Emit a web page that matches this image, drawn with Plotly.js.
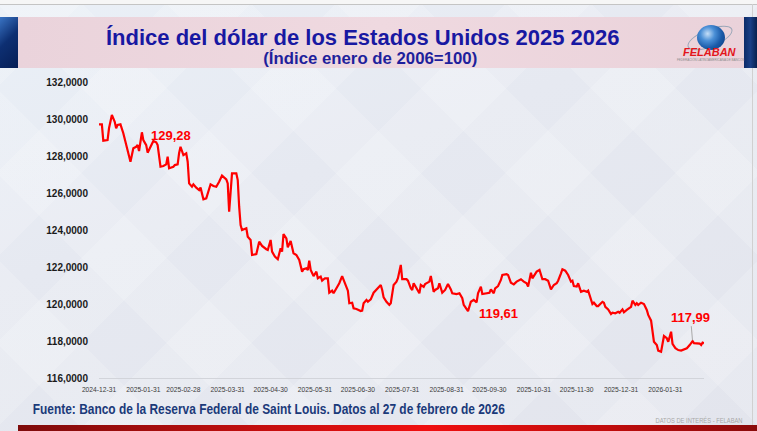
<!DOCTYPE html>
<html>
<head>
<meta charset="utf-8">
<script src="https://cdn.plot.ly/plotly-3.0.1.min.js"></script>
<style>
  html, body { margin:0; padding:0; width:757px; height:431px; overflow:hidden; }
  body { position:relative; background:#e5e8f0; }
  #bg { position:absolute; left:0; top:0; width:757px; height:431px;
    background:
      repeating-linear-gradient(45deg, rgba(255,255,255,0) 0px, rgba(255,255,255,0) 60px, rgba(255,255,255,0.16) 60px, rgba(255,255,255,0.16) 120px),
      repeating-linear-gradient(-45deg, rgba(255,255,255,0) 0px, rgba(255,255,255,0) 60px, rgba(255,255,255,0.16) 60px, rgba(255,255,255,0.16) 120px),
      linear-gradient(160deg, #eaf0f7 0%, #e6e9f1 40%, #e3e5ed 100%);
  }
  .deco { position:absolute; }
  #topwhite { left:0; top:0; width:757px; height:4px; background:#f6f6f6; }
  #topline { left:0; top:4px; width:757px; height:1px; background:#c4c4c4; }
  #rightline { left:752px; top:4px; width:1px; height:421px; background:#d0d0d0; }
  #banner { left:18px; top:17px; width:726px; height:51px;
    background: linear-gradient(90deg, #ead3db 0%, #efd9e0 50%, #ead2da 100%); }
  #lstripe { left:0; top:17px; width:18px; height:51px;
    background: linear-gradient(135deg, #3a74c4 0%, #0d2f72 45%, #061e55 100%); }
  #rstripe { left:744px; top:17px; width:13px; height:51px;
    background: linear-gradient(90deg, #0b2a68 0%, #1a3f86 50%, #08214f 100%); }
  #redbar { left:18px; top:425px; width:739px; height:6px;
    background: linear-gradient(90deg, #7e0b0b 0%, #c80f0f 35%, #f01010 55%, #c00c0c 80%, #8a0a0a 100%); }
  #globe { left:697px; top:25px; width:28px; height:25px; border-radius:50%;
    background: radial-gradient(circle at 38% 35%, #c4def7 0%, #4a8fd6 30%, #1a5aa8 60%, #0c3577 100%); }
  #ring { left:686px; top:29px; width:46px; height:16px; border-radius:50%;
    border:1.3px solid #9aa6b8; transform: rotate(-22deg); }
  #plot { position:absolute; left:0; top:0; width:757px; height:431px; }
</style>
</head>
<body>
<div id="bg"></div>
<div class="deco" id="topwhite"></div>
<div class="deco" id="topline"></div>
<div class="deco" id="rightline"></div>
<div class="deco" id="banner"></div>
<div class="deco" id="lstripe"></div>
<div class="deco" id="rstripe"></div>
<div class="deco" id="redbar"></div>
<div class="deco" id="ring"></div>
<div class="deco" id="globe"></div>
<div id="plot"></div>
<script>
// ---- Data ----
const dates = [
'2024-12-31','2025-01-02','2025-01-03','2025-01-06','2025-01-07','2025-01-09','2025-01-11','2025-01-12','2025-01-13','2025-01-15',
'2025-01-17','2025-01-19','2025-01-20','2025-01-22','2025-01-23','2025-01-24','2025-01-26','2025-01-27','2025-01-28','2025-01-30',
'2025-01-31','2025-02-02','2025-02-03','2025-02-05','2025-02-07','2025-02-09','2025-02-10','2025-02-12','2025-02-14','2025-02-16',
'2025-02-17','2025-02-18','2025-02-21','2025-02-22','2025-02-24','2025-02-25','2025-02-26','2025-02-28','2025-03-02','2025-03-03',
'2025-03-04','2025-03-06','2025-03-07','2025-03-09','2025-03-11','2025-03-12','2025-03-14','2025-03-16','2025-03-17','2025-03-19',
'2025-03-21','2025-03-23','2025-03-25','2025-03-27','2025-03-30','2025-03-31','2025-04-01','2025-04-03','2025-04-06','2025-04-07',
'2025-04-08','2025-04-09','2025-04-10','2025-04-12','2025-04-13','2025-04-14','2025-04-16','2025-04-17','2025-04-20','2025-04-22',
'2025-04-24','2025-04-27','2025-04-28','2025-04-30','2025-05-01','2025-05-03','2025-05-05','2025-05-07','2025-05-08','2025-05-09',
'2025-05-11','2025-05-12','2025-05-14','2025-05-16','2025-05-18','2025-05-20','2025-05-21','2025-05-22','2025-05-23','2025-05-25',
'2025-05-26','2025-05-27','2025-05-28','2025-05-30','2025-06-01','2025-06-02','2025-06-04','2025-06-05','2025-06-07','2025-06-09',
'2025-06-10','2025-06-12','2025-06-13','2025-06-15','2025-06-17','2025-06-19','2025-06-21','2025-06-23','2025-06-24','2025-06-26',
'2025-06-27','2025-06-29','2025-07-02','2025-07-03','2025-07-04','2025-07-06','2025-07-07','2025-07-09','2025-07-11','2025-07-13',
'2025-07-14','2025-07-16','2025-07-17','2025-07-18','2025-07-20','2025-07-22','2025-07-23','2025-07-25','2025-07-27','2025-07-28',
'2025-07-30','2025-07-31','2025-08-03','2025-08-04','2025-08-06','2025-08-07','2025-08-08','2025-08-10','2025-08-12','2025-08-13',
'2025-08-15','2025-08-16','2025-08-19','2025-08-20','2025-08-22','2025-08-23','2025-08-25','2025-08-26','2025-08-28','2025-08-30',
'2025-09-01','2025-09-03','2025-09-04','2025-09-07','2025-09-09','2025-09-11','2025-09-12','2025-09-15','2025-09-17','2025-09-19',
'2025-09-21','2025-09-22','2025-09-24','2025-09-25','2025-09-28','2025-09-30','2025-10-01','2025-10-03','2025-10-04','2025-10-06',
'2025-10-08','2025-10-09','2025-10-12','2025-10-13','2025-10-15','2025-10-17','2025-10-19','2025-10-22','2025-10-24','2025-10-26',
'2025-10-27','2025-10-29','2025-10-30','2025-10-31','2025-11-02','2025-11-04','2025-11-06','2025-11-08','2025-11-10','2025-11-12',
'2025-11-14','2025-11-16','2025-11-17','2025-11-19','2025-11-20','2025-11-22','2025-11-24','2025-11-26','2025-11-27','2025-11-28',
'2025-11-30','2025-12-01','2025-12-03','2025-12-05','2025-12-07','2025-12-08','2025-12-10','2025-12-11','2025-12-12','2025-12-14',
'2025-12-15','2025-12-17','2025-12-18','2025-12-19','2025-12-20','2025-12-22','2025-12-24','2025-12-25','2025-12-27','2025-12-29',
'2025-12-30','2026-01-01','2026-01-02','2026-01-04','2026-01-07','2026-01-08','2026-01-10','2026-01-11','2026-01-12','2026-01-14',
'2026-01-16','2026-01-18','2026-01-19','2026-01-21','2026-01-22','2026-01-23','2026-01-25','2026-01-26','2026-01-28','2026-01-29',
'2026-01-30','2026-02-01','2026-02-02','2026-02-04','2026-02-05','2026-02-07','2026-02-09','2026-02-11','2026-02-13','2026-02-15',
'2026-02-17','2026-02-19','2026-02-20','2026-02-22','2026-02-24','2026-02-25','2026-02-26','2026-02-27'
];
const indexValues = [
129.71,129.71,128.83,128.86,129.50,130.22,129.85,129.50,129.68,129.71,
129.23,128.59,128.42,127.69,128.05,128.42,128.50,128.59,128.27,129.28,
128.86,128.59,128.18,128.50,128.81,128.74,128.59,127.42,127.46,127.55,
127.96,127.34,127.42,127.51,127.55,128.15,128.50,128.05,128.15,127.69,
126.52,126.34,126.47,126.29,126.16,126.29,125.66,125.71,125.98,126.47,
126.38,126.34,126.61,126.94,126.74,126.52,124.99,127.06,127.06,126.70,
125.26,124.27,124.00,124.09,124.09,123.64,123.46,122.65,122.70,123.37,
123.14,122.96,122.92,123.46,122.83,122.56,122.42,123.01,122.83,123.78,
123.55,123.06,123.41,122.74,122.65,122.38,122.11,121.75,121.88,121.93,
121.84,122.34,121.84,121.51,121.75,121.39,121.48,121.26,121.39,121.39,
120.61,120.72,120.58,120.85,121.12,121.51,121.12,120.72,120.04,120.07,
119.77,119.73,119.62,119.64,120.04,120.22,120.12,120.25,120.61,120.76,
120.85,121.03,120.76,120.36,120.12,119.95,120.04,121.03,121.21,121.39,
122.11,121.34,121.34,121.26,120.85,120.76,121.12,120.85,120.58,121.03,
120.93,121.08,121.21,121.51,120.66,120.76,120.85,121.12,120.61,120.76,
121.08,120.79,120.58,120.54,120.58,120.31,119.95,119.61,120.12,120.22,
120.09,120.58,120.94,120.54,120.58,120.61,120.79,120.58,120.85,120.97,
121.30,121.57,121.61,121.57,121.15,121.06,121.21,121.34,121.21,121.12,
120.94,121.69,121.39,121.51,121.75,121.84,121.34,121.34,121.26,120.79,
121.03,121.12,121.26,121.66,121.88,121.80,121.57,121.21,121.26,120.97,
120.94,121.12,120.66,120.72,120.66,120.72,120.22,120.00,120.07,119.89,
119.89,120.04,120.12,120.07,119.85,119.71,119.46,119.53,119.50,119.58,
119.53,119.71,119.55,119.68,119.85,120.18,119.95,120.04,119.95,120.07,
120.00,119.68,119.41,119.10,118.63,117.96,117.78,117.48,117.42,117.96,
118.27,118.15,117.96,118.50,117.84,117.61,117.51,117.48,117.55,117.61,
117.78,117.99,117.88,117.87,117.86,117.78,117.91,117.88
];
const xTickDates = ['2024-12-31','2025-01-31','2025-02-28','2025-03-31','2025-04-30','2025-05-31','2025-06-30',
  '2025-07-31','2025-08-31','2025-09-30','2025-10-31','2025-11-30','2025-12-31','2026-01-31'];
const yTickValues = [116,118,120,122,124,126,128,130,132];
const labelledValues = [129.28, 119.61, 117.99];

// ---- Texts ----
const titleText = 'Índice del dólar de los Estados Unidos 2025 2026';
const subtitleText = '(Índice enero de 2006=100)';
const sourceText = 'Fuente: Banco de la Reserva Federal de Saint Louis. Datos al 27 de febrero de 2026';
const footerText = 'DATOS DE INTERÉS - FELABAN';

const fmt = (v, d) => v.toFixed(d).replace('.', ',');
const yTickText = yTickValues.map(v => fmt(v, 4));

// layout geometry
const W = 757, H = 431, ML = 99, MR = 53, MT = 82, MB = 53;
const PW = W - ML - MR, PH = H - MT - MB;
const px = x => (x - ML) / PW;
const py = y => (H - MB - y) / PH;

const SANS = 'Liberation Sans, Arial, sans-serif';

const trace = {
  type: 'scatter', mode: 'lines', x: dates, y: indexValues,
  line: { color: '#ff0000', width: 2.2, shape: 'linear' },
  hoverinfo: 'skip', showlegend: false
};

// condensed texts: [text, target width in px]
const condensed = [[sourceText, 472], [subtitleText, 214], [footerText, 87]];

const annotations = [
  { xref:'paper', yref:'paper', x: px(363), y: py(37), xanchor:'center', yanchor:'middle',
    text: titleText, showarrow:false, font:{ family:SANS, size:22, color:'#1818a2', weight:'bold' } },
  { xref:'paper', yref:'paper', x: px(370), y: py(58), xanchor:'center', yanchor:'middle',
    text: subtitleText, showarrow:false, font:{ family:SANS, size:16.5, color:'#1f1f9c', weight:'bold' } },
  { xref:'paper', yref:'paper', x: px(269), y: py(408), xanchor:'center', yanchor:'middle',
    text: sourceText, showarrow:false, font:{ family:SANS, size:15, color:'#1b3a7a', weight:'bold' } },
  { xref:'paper', yref:'paper', x: px(698.5), y: py(420), xanchor:'center', yanchor:'middle',
    text: footerText, showarrow:false, font:{ family:SANS, size:6.5, color:'#a8a8a8' } },
  { xref:'paper', yref:'paper', x: px(710), y: py(52), xanchor:'center', yanchor:'middle',
    text: 'FELABAN', showarrow:false, font:{ family:SANS, size:11, color:'#e3161b', weight:'bold', style:'italic' } },
  { xref:'paper', yref:'paper', x: px(710), y: py(59), xanchor:'center', yanchor:'middle',
    text: 'FEDERACIÓN LATINOAMERICANA DE BANCOS', showarrow:false, font:{ family:SANS, size:3, color:'#8a8a8a' } }
];

// value labels attached to the data points
const labelStyle = { family: SANS, size: 13, color: '#ff0000', weight: 'bold' };
const i1 = indexValues.indexOf(labelledValues[0]);
annotations.push({ x: dates[i1], y: indexValues[i1], xref:'x', yref:'y', text: fmt(indexValues[i1], 2),
  showarrow:false, xanchor:'left', yanchor:'middle', xshift:7, yshift:-3, font: labelStyle });
const i2 = indexValues.indexOf(labelledValues[1]);
annotations.push({ x: dates[i2], y: indexValues[i2], xref:'x', yref:'y', text: fmt(indexValues[i2], 2),
  showarrow:false, xanchor:'left', yanchor:'middle', xshift:9, yshift:-2, font: labelStyle });
const i3 = indexValues.indexOf(labelledValues[2]);
annotations.push({ x: dates[i3], y: indexValues[i3], xref:'x', yref:'y', text: fmt(indexValues[i3], 2),
  showarrow:true, arrowhead:0, arrowwidth:1, arrowcolor:'#a9a9a9', ax:-2, ay:-24, standoff:1,
  font: labelStyle });

const layout = {
  width: W, height: H,
  margin: { l: ML, r: MR, t: MT, b: MB, pad: 0 },
  paper_bgcolor: 'rgba(0,0,0,0)', plot_bgcolor: 'rgba(0,0,0,0)',
  showlegend: false,
  xaxis: {
    type: 'date', range: ['2024-12-31', '2026-02-27'],
    tickmode: 'array', tickvals: xTickDates, ticktext: xTickDates,
    tickfont: { family: SANS, size: 6.7, color: '#3a3a3a' },
    showgrid: false, zeroline: false, showline: true, linecolor: '#d2d4da', linewidth: 1,
    ticks: '', ticklabelstandoff: 5, fixedrange: true
  },
  yaxis: {
    range: [116, 132], tickmode: 'array', tickvals: yTickValues, ticktext: yTickText,
    tickfont: { family: SANS, size: 10, color: '#1a1a1a', weight: 'bold' },
    showgrid: false, zeroline: false, showline: false, ticks: '', ticklabelstandoff: 10,
    fixedrange: true
  },
  annotations: annotations
};

Plotly.newPlot('plot', [trace], layout, { displayModeBar: false, staticPlot: true }).then(() => {
  document.querySelectorAll('.annotation-text').forEach(t => {
    condensed.forEach(([txt, len]) => {
      if (t.textContent === txt) {
        t.setAttribute('textLength', len);
        t.setAttribute('lengthAdjust', 'spacingAndGlyphs');
      }
    });
  });
});
</script>
</body>
</html>
